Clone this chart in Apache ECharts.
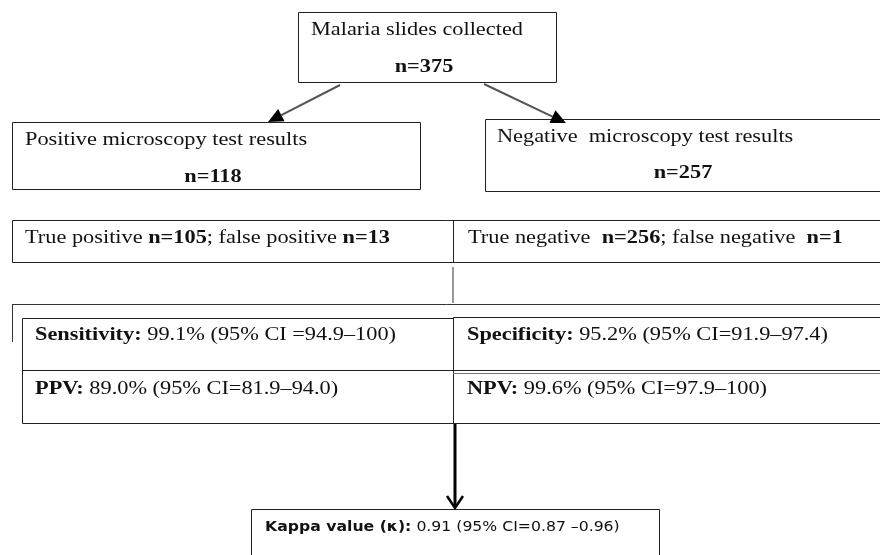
<!DOCTYPE html>
<html><head><meta charset="utf-8">
<script src="https://cdn.jsdelivr.net/npm/echarts@6/dist/echarts.min.js"></script>
<style>html,body{margin:0;padding:0;background:#fff}#c{width:880px;height:555px}</style>
</head><body><div id="c"></div>
<script>
// ---------- data ----------
const stageLabels = ['Malaria slides collected', 'Positive microscopy test results', 'Negative  microscopy test results'];
const stageCounts = [375, 118, 257];
const positiveSplit = [105, 13];   // true positive, false positive
const negativeSplit = [256, 1];    // true negative, false negative
const metricNames = ['Sensitivity', 'PPV', 'Specificity', 'NPV'];
const metricValues = [99.1, 89.0, 95.2, 99.6];
const ciLow = [94.9, 81.9, 91.9, 97.9];
const ciHigh = [100, 94.0, 97.4, 100];
const ciSep = [' =', '=', '=', '='];
const kappaStats = [0.91, 0.87, 0.96]; // value, lower, upper

// ---------- layout (diagram units = px) ----------
const boxes = [
  [298, 12, 556, 82],
  [12, 122, 420, 189],
  [485, 119, 884, 191],
  [12, 220, 884, 262],
  [22, 318, 453, 423],
  [453, 317, 884, 423],
  [251, 509, 659, 570]
];
const rules = [
  [453, 220, 453, 262, '#222', 1],
  [453, 267, 453, 303, '#999', 2],
  [12, 304, 884, 304, '#333', 1],
  [12, 304, 12, 342, '#333', 1],
  [22, 370, 453, 370, '#222', 1],
  [453, 370, 884, 370, '#222', 1],
  [453, 373, 884, 373, '#777', 1]
];
const arrows = [
  [340, 85, 268, 122, '#555', 2, 'fill'],
  [484, 84, 566, 123, '#555', 2, 'fill'],
  [455, 424, 455, 508, '#000', 3, 'open']
];

const fmt = v => (v === 100 ? '100' : v.toFixed(1));
const SERIF = '"Liberation Serif","Times New Roman",serif';
const SANS = '"DejaVu Sans",Verdana,sans-serif';
const SX = 1.24;
const FS = 18;
const serifRich = {
  r: { fontFamily: SERIF, fontSize: FS, fill: '#111' },
  b: { fontFamily: SERIF, fontSize: FS, fontWeight: 'bold', fill: '#111' }
};
const sansRich = {
  r: { fontFamily: SANS, fontSize: 14, fill: '#111' },
  b: { fontFamily: SANS, fontSize: 14, fontWeight: 'bold', fill: '#111' }
};

const metricText = i => '{b|' + metricNames[i] + ':}{r| ' + fmt(metricValues[i]) + '% (95% CI' + ciSep[i] + fmt(ciLow[i]) + '\u2013' + fmt(ciHigh[i]) + ')}';

// text entries: [x, y, text, align, rich, scaleX]
const texts = [
  [311, 30, '{r|' + stageLabels[0] + '}', 'left', serifRich, SX],
  [424, 67, '{b|n=' + stageCounts[0] + '}', 'center', serifRich, SX],
  [25, 140, '{r|' + stageLabels[1] + '}', 'left', serifRich, SX],
  [213, 177, '{b|n=' + stageCounts[1] + '}', 'center', serifRich, SX],
  [497, 137, '{r|' + stageLabels[2] + '}', 'left', serifRich, SX],
  [683, 173, '{b|n=' + stageCounts[2] + '}', 'center', serifRich, SX],
  [25, 238, '{r|True positive }{b|n=' + positiveSplit[0] + '}{r|; false positive }{b|n=' + positiveSplit[1] + '}', 'left', serifRich, SX],
  [468, 238, '{r|True negative  }{b|n=' + negativeSplit[0] + '}{r|; false negative  }{b|n=' + negativeSplit[1] + '}', 'left', serifRich, SX],
  [35, 335, metricText(0), 'left', serifRich, SX],
  [35, 389, metricText(1), 'left', serifRich, SX],
  [467, 335, metricText(2), 'left', serifRich, SX],
  [467, 389, metricText(3), 'left', serifRich, SX],
  [265, 527, '{b|Kappa value (\u03ba):}{r| ' + kappaStats[0].toFixed(2) + ' (95% CI=' + kappaStats[1].toFixed(2) + ' \u2013' + kappaStats[2].toFixed(2) + ')}', 'left', sansRich, 1.12]
];

const crisp = (v, w) => (w % 2 === 1 ? Math.round(v) + 0.5 : Math.round(v));

const chart = echarts.init(document.getElementById('c'), null, { renderer: 'canvas' });
chart.setOption({
  backgroundColor: '#fff',
  animation: false,
  grid: { left: 0, right: 0, top: 0, bottom: 0 },
  xAxis: { type: 'value', min: 0, max: 880, show: false },
  yAxis: { type: 'value', min: 0, max: 555, inverse: true, show: false },
  series: [
    {
      type: 'custom', name: 'boxes', clip: false, silent: true,
      encode: { x: [0, 2], y: [1, 3] },
      data: boxes,
      renderItem: function (params, api) {
        const a = api.coord([api.value(0), api.value(1)]);
        const b = api.coord([api.value(2), api.value(3)]);
        const x = crisp(a[0], 1), y = crisp(a[1], 1);
        return {
          type: 'rect',
          shape: { x: x, y: y, width: Math.round(b[0] - a[0]), height: Math.round(b[1] - a[1]) },
          style: { fill: 'none', stroke: '#222', lineWidth: 1 }
        };
      }
    },
    {
      type: 'custom', name: 'rules', clip: false, silent: true,
      encode: { x: [0, 2], y: [1, 3] },
      data: rules.map(r => r.slice(0, 4)),
      renderItem: function (params, api) {
        const r = rules[params.dataIndex];
        const a = api.coord([api.value(0), api.value(1)]);
        const b = api.coord([api.value(2), api.value(3)]);
        const w = r[5];
        const vert = Math.abs(a[0] - b[0]) < 0.01;
        return {
          type: 'line',
          shape: vert
            ? { x1: crisp(a[0], w), y1: a[1], x2: crisp(b[0], w), y2: b[1] }
            : { x1: a[0], y1: crisp(a[1], w), x2: b[0], y2: crisp(b[1], w) },
          style: { stroke: r[4], lineWidth: w }
        };
      }
    },
    {
      type: 'custom', name: 'arrows', clip: false, silent: true,
      encode: { x: [0, 2], y: [1, 3] },
      data: arrows.map(r => r.slice(0, 4)),
      renderItem: function (params, api) {
        const r = arrows[params.dataIndex];
        const a = api.coord([api.value(0), api.value(1)]);
        const b = api.coord([api.value(2), api.value(3)]);
        const dx = b[0] - a[0], dy = b[1] - a[1];
        const L = Math.sqrt(dx * dx + dy * dy);
        const ux = dx / L, uy = dy / L, nx = -uy, ny = ux;
        const children = [];
        if (r[6] === 'fill') {
          const hl = 15, hw = 7;
          const bx = b[0] - ux * hl, by = b[1] - uy * hl;
          children.push({ type: 'line', shape: { x1: a[0], y1: a[1], x2: bx, y2: by }, style: { stroke: r[4], lineWidth: r[5] } });
          children.push({ type: 'polygon', shape: { points: [[b[0], b[1]], [bx + nx * hw, by + ny * hw], [bx - nx * hw, by - ny * hw]] }, style: { fill: '#000' } });
        } else {
          const hl = 12, hw = 8;
          const bx = b[0] - ux * hl, by = b[1] - uy * hl;
          children.push({ type: 'line', shape: { x1: a[0], y1: a[1], x2: b[0], y2: b[1] - 1 }, style: { stroke: r[4], lineWidth: r[5] } });
          children.push({ type: 'polyline', shape: { points: [[bx + nx * hw, by + ny * hw], [b[0], b[1]], [bx - nx * hw, by - ny * hw]] }, style: { fill: 'none', stroke: r[4], lineWidth: 2.5 } });
        }
        return { type: 'group', children: children };
      }
    },
    {
      type: 'custom', name: 'texts', clip: false, silent: true,
      encode: { x: 0, y: 1 },
      data: texts.map(t => [t[0], t[1]]),
      renderItem: function (params, api) {
        const t = texts[params.dataIndex];
        const p = api.coord([api.value(0), api.value(1)]);
        return {
          type: 'text',
          x: p[0], y: p[1], scaleX: t[5], scaleY: 1,
          style: { x: 0, y: 0, text: t[2], rich: t[4], align: t[3], verticalAlign: 'middle', fill: '#111' }
        };
      }
    }
  ]
});
</script></body></html>
